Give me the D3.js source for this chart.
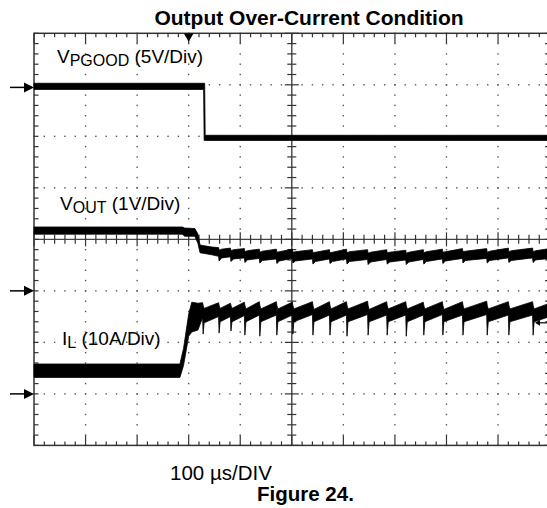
<!DOCTYPE html>
<html>
<head>
<meta charset="utf-8">
<script src="https://cdn.jsdelivr.net/npm/d3@7"></script>
<style>
body { margin: 0; background: #fff; }
text { font-family: "Liberation Sans", Arial, sans-serif; fill: #000; }
</style>
</head>
<body>
<svg id="chart" width="547" height="508"></svg>
<script>
// scope settings: 10 divisions of 100 us, 8 vertical divisions
var timeDomain = [0, 1000];
var divDomain = [-4, 4];
var triggerTime = 300;
var groundMarks = [2.95, -1, -3];
var triggerLevel = -1.62;

// traces: [time us, low edge div, high edge div]
var vpgood = [
  [0, 2.91, 3.03], [329, 2.91, 3.03], [330, 1.92, 3.03], [331, 1.92, 3.03],
  [332, 1.92, 2.02], [1000, 1.92, 2.02]
];

var vout = [
  [0, 0.10, 0.24], [288, 0.10, 0.24], [292, 0.06, 0.22], [312, 0.06, 0.21],
  [318, -0.08, 0.10], [322, -0.26, -0.11], [345, -0.30, -0.15],
  [358, -0.33, -0.16], [359, -0.42, -0.21], [364, -0.36, -0.19],
  [381, -0.34, -0.17], [382, -0.43, -0.22], [387, -0.38, -0.20],
  [408, -0.36, -0.18], [409, -0.45, -0.24], [414, -0.40, -0.22],
  [437, -0.37, -0.19], [438, -0.46, -0.25], [443, -0.41, -0.23],
  [470, -0.38, -0.19], [471, -0.47, -0.25], [476, -0.42, -0.24],
  [501, -0.37, -0.19], [502, -0.46, -0.25], [507, -0.42, -0.24],
  [540, -0.38, -0.20], [541, -0.48, -0.26], [546, -0.43, -0.25],
  [573, -0.38, -0.20], [574, -0.47, -0.26], [579, -0.43, -0.25],
  [606, -0.38, -0.19], [607, -0.48, -0.26], [612, -0.43, -0.24],
  [647, -0.39, -0.20], [648, -0.49, -0.27], [653, -0.44, -0.25],
  [684, -0.39, -0.20], [685, -0.48, -0.26], [690, -0.44, -0.25],
  [721, -0.40, -0.21], [722, -0.49, -0.27], [727, -0.44, -0.25],
  [755, -0.39, -0.20], [756, -0.48, -0.26], [761, -0.43, -0.24],
  [792, -0.38, -0.19], [793, -0.47, -0.25], [798, -0.42, -0.24],
  [831, -0.37, -0.18], [832, -0.46, -0.24], [837, -0.41, -0.23],
  [878, -0.37, -0.18], [879, -0.46, -0.25], [884, -0.41, -0.23],
  [920, -0.36, -0.17], [921, -0.45, -0.24], [926, -0.41, -0.22],
  [967, -0.36, -0.17], [968, -0.45, -0.24], [973, -0.40, -0.22],
  [1000, -0.37, -0.18]
];

var il = [
  [0, -2.68, -2.42], [283, -2.68, -2.42], [290, -2.45, -2.12],
  [300, -1.88, -1.45], [306, -1.80, -1.22], [318, -1.76, -1.24],
  [327, -1.52, -1.23], [328, -1.84, -1.28], [330, -1.62, -1.34],
  [358, -1.50, -1.23], [359, -1.82, -1.28], [361, -1.60, -1.34],
  [381, -1.50, -1.24], [382, -1.78, -1.28], [384, -1.60, -1.34],
  [408, -1.48, -1.22], [409, -1.86, -1.28], [411, -1.60, -1.35],
  [437, -1.47, -1.21], [438, -1.88, -1.28], [440, -1.60, -1.35],
  [470, -1.47, -1.21], [471, -1.86, -1.28], [473, -1.60, -1.35],
  [501, -1.47, -1.22], [502, -1.84, -1.28], [504, -1.60, -1.35],
  [540, -1.46, -1.21], [541, -1.86, -1.28], [543, -1.60, -1.36],
  [573, -1.47, -1.21], [574, -1.86, -1.28], [576, -1.60, -1.35],
  [606, -1.47, -1.21], [607, -1.88, -1.28], [609, -1.60, -1.35],
  [647, -1.46, -1.20], [648, -1.86, -1.28], [650, -1.60, -1.36],
  [684, -1.47, -1.21], [685, -1.86, -1.28], [687, -1.60, -1.35],
  [721, -1.47, -1.21], [722, -1.88, -1.28], [724, -1.60, -1.35],
  [755, -1.47, -1.22], [756, -1.86, -1.28], [758, -1.60, -1.35],
  [792, -1.46, -1.21], [793, -1.86, -1.28], [795, -1.60, -1.36],
  [831, -1.47, -1.21], [832, -1.86, -1.28], [834, -1.60, -1.35],
  [878, -1.46, -1.20], [879, -1.86, -1.28], [881, -1.60, -1.35],
  [920, -1.47, -1.21], [921, -1.86, -1.28], [923, -1.60, -1.35],
  [967, -1.47, -1.21], [968, -1.86, -1.28], [970, -1.60, -1.35],
  [1000, -1.50, -1.24]
];

var svg = d3.select("#chart");

var x = d3.scaleLinear().domain(timeDomain).range([34, 549.6]);
var y = d3.scaleLinear().domain(divDomain).range([445.4, 33.3]);

var minorT = d3.range(0, 1001, 20);
var minorV = d3.range(-4, 4.001, 0.2).map(function(v) { return Math.round(v * 10) / 10; });
function isMajorT(t) { return t % 100 === 0; }
function isMajorV(v) { return Math.abs(v - Math.round(v)) < 0.01; }

var grid = svg.append("g");

// dotted graticule
var hLines = d3.range(-3, 4).filter(function(v) { return v !== 0; });
var vLines = d3.range(100, 1000, 100).filter(function(t) { return t !== 500; });
hLines.forEach(function(v) {
  grid.selectAll(null).data(minorT).enter().append("rect")
    .attr("x", function(t) { return x(t) - 0.7; })
    .attr("y", y(v) - 0.7)
    .attr("width", 1.4).attr("height", 1.4)
    .attr("fill", "#555");
});
vLines.forEach(function(t) {
  grid.selectAll(null).data(minorV).enter().append("rect")
    .attr("x", x(t) - 0.7)
    .attr("y", function(v) { return y(v) - 0.7; })
    .attr("width", 1.4).attr("height", 1.4)
    .attr("fill", "#555");
});

// centre cross with ticks
grid.append("line")
  .attr("x1", x(0)).attr("x2", x(1000)).attr("y1", y(0)).attr("y2", y(0))
  .attr("stroke", "#444").attr("stroke-width", 1.4);
grid.append("line")
  .attr("x1", x(500)).attr("x2", x(500)).attr("y1", y(4)).attr("y2", y(-4))
  .attr("stroke", "#444").attr("stroke-width", 1.4);
grid.selectAll(null).data(minorT).enter().append("line")
  .attr("x1", function(t) { return x(t); }).attr("x2", function(t) { return x(t); })
  .attr("y1", function(t) { return y(0) - (isMajorT(t) ? 7 : 4.5); })
  .attr("y2", function(t) { return y(0) + (isMajorT(t) ? 7 : 4.5); })
  .attr("stroke", "#333").attr("stroke-width", 1.2);
grid.selectAll(null).data(minorV).enter().append("line")
  .attr("y1", function(v) { return y(v); }).attr("y2", function(v) { return y(v); })
  .attr("x1", function(v) { return x(500) - (isMajorV(v) ? 7 : 4.5); })
  .attr("x2", function(v) { return x(500) + (isMajorV(v) ? 7 : 4.5); })
  .attr("stroke", "#333").attr("stroke-width", 1.2);

// border ticks
grid.selectAll(null).data(minorT).enter().append("line")
  .attr("x1", function(t) { return x(t); }).attr("x2", function(t) { return x(t); })
  .attr("y1", y(4)).attr("y2", function(t) { return y(4) + (isMajorT(t) ? 10 : 4); })
  .attr("stroke", "#333").attr("stroke-width", 1.2);
grid.selectAll(null).data(minorT).enter().append("line")
  .attr("x1", function(t) { return x(t); }).attr("x2", function(t) { return x(t); })
  .attr("y1", y(-4)).attr("y2", function(t) { return y(-4) - (isMajorT(t) ? 10 : 4); })
  .attr("stroke", "#333").attr("stroke-width", 1.2);
grid.selectAll(null).data(minorV).enter().append("line")
  .attr("y1", function(v) { return y(v); }).attr("y2", function(v) { return y(v); })
  .attr("x1", x(0)).attr("x2", x(0) + 4.5)
  .attr("stroke", "#333").attr("stroke-width", 1.2);
grid.selectAll(null).data(minorV).enter().append("line")
  .attr("y1", function(v) { return y(v); }).attr("y2", function(v) { return y(v); })
  .attr("x1", x(1000)).attr("x2", x(1000) - 4.5)
  .attr("stroke", "#333").attr("stroke-width", 1.2);

grid.append("rect")
  .attr("x", x(0)).attr("y", y(4))
  .attr("width", x(1000) - x(0)).attr("height", y(-4) - y(4))
  .attr("fill", "none").attr("stroke", "#333").attr("stroke-width", 1.5);

// traces as noise envelopes
var band = d3.area()
  .x(function(d) { return x(d[0]); })
  .y0(function(d) { return y(d[1]); })
  .y1(function(d) { return y(d[2]); });

[vpgood, vout, il].forEach(function(tr) {
  svg.append("path").datum(tr)
    .attr("d", band)
    .attr("fill", "#000")
    .attr("stroke", "#000").attr("stroke-width", 0.8);
});

// trigger position marker
svg.append("path")
  .attr("d", d3.symbol().type(d3.symbolTriangle).size(40))
  .attr("transform", "translate(" + [x(triggerTime), y(4) + 3] + ") rotate(180)")
  .attr("fill", "#000");

// ground level arrows on the left
groundMarks.forEach(function(v) {
  svg.append("line")
    .attr("x1", 10).attr("x2", x(0) - 6).attr("y1", y(v)).attr("y2", y(v))
    .attr("stroke", "#000").attr("stroke-width", 1.5);
  svg.append("path")
    .attr("d", "M0,0 L-10,-5 L-10,5 Z")
    .attr("transform", "translate(" + [x(0), y(v)] + ")")
    .attr("fill", "#000");
});

// trigger level arrow on the right
svg.append("line")
  .attr("x1", 537).attr("x2", 547).attr("y1", y(triggerLevel)).attr("y2", y(triggerLevel))
  .attr("stroke", "#000").attr("stroke-width", 1.2);
svg.append("path")
  .attr("d", "M0,0 L5,-3 L5,3 Z")
  .attr("transform", "translate(" + [535, y(triggerLevel)] + ")")
  .attr("fill", "#000");

// labels
function chLabel(px, py, main, sub, rest) {
  var t = svg.append("text").attr("x", px).attr("y", py).style("font-size", "19px");
  t.append("tspan").text(main);
  t.append("tspan").attr("dy", 3).style("font-size", "16px").text(sub);
  t.append("tspan").attr("dy", -3).text(rest);
}
chLabel(57, 63, "V", "PGOOD", " (5V/Div)");
chLabel(60, 210, "V", "OUT", " (1V/Div)");
chLabel(62, 345, "I", "L", " (10A/Div)");

svg.append("text")
  .attr("x", 309).attr("y", 25)
  .attr("text-anchor", "middle")
  .style("font-size", "21px").style("font-weight", "bold")
  .text("Output Over-Current Condition");

svg.append("text")
  .attr("x", 170).attr("y", 480)
  .style("font-size", "20.5px")
  .text("100 \u00b5s/DIV");

svg.append("text")
  .attr("x", 257).attr("y", 501)
  .style("font-size", "20.5px").style("font-weight", "bold")
  .text("Figure 24.");
</script>
</body>
</html>
